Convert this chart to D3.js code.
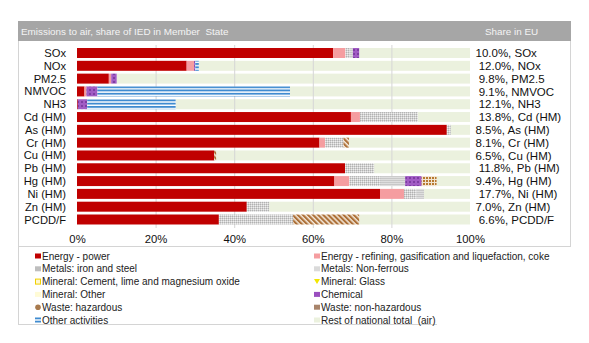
<!DOCTYPE html>
<html>
<head>
<meta charset="utf-8">
<script src="https://cdn.jsdelivr.net/npm/d3@7"></script>
<style>
  html, body { margin: 0; padding: 0; background: #fff; }
  svg { display: block; font-family: "Liberation Sans", Arial, sans-serif; }
  text { white-space: pre; }
</style>
</head>
<body>
<svg id="chart" width="589" height="343"></svg>
<script>
// Pollutants (rows) and the share-in-EU labels shown on the right
const categories = ["SOx", "NOx", "PM2.5", "NMVOC", "NH3", "Cd (HM)", "As (HM)", "Cr (HM)",
  "Cu (HM)", "Pb (HM)", "Hg (HM)", "Ni (HM)", "Zn (HM)", "PCDD/F"];
const euShareLabels = ["10.0%, SOx", " 12.0%, NOx", " 9.8%, PM2.5", " 9.1%, NMVOC", " 12.1%, NH3",
  " 13.8%, Cd (HM)", "8.5%, As (HM)", "8.1%, Cr (HM)", "6.5%, Cu (HM)", " 11.8%, Pb (HM)",
  "9.4%, Hg (HM)", " 17.7%, Ni (HM)", "7.0%, Zn (HM)", " 6.6%, PCDD/F"];

// Share of national air emissions (%) by IED activity
const energyPower      = [65.2, 27.9, 8.1, 1.9, 0.2, 69.7, 94.1, 61.7, 34.9, 68.2, 65.5, 77.1, 43.2, 36.1];
const energyRefining   = [3.1, 1.9, 0.6, 0.5, 0, 2.3, 0, 1.4, 0, 0, 3.8, 6.1, 0, 0];
const metalsIronSteel  = [1.0, 0, 0, 0, 0, 14.7, 1.0, 4.7, 0, 7.4, 8.0, 3.2, 5.7, 18.9];
const metalsNonFerrous = [0.9, 0, 0, 0, 0, 0, 0, 0, 0, 0, 6.2, 1.9, 0, 0];
const mineralCement    = [0, 0, 0, 0, 0, 0, 0, 0, 0, 0, 0, 0, 0, 0];
const mineralGlass     = [0, 0, 0, 0, 0, 0, 0, 0, 0, 0, 0, 0, 0, 0];
const mineralOther     = [0, 0, 0, 0, 0, 0, 0, 0, 0, 0, 0, 0, 0, 0];
const chemical         = [1.6, 0.3, 1.4, 2.8, 2.4, 0, 0, 0, 0, 0, 4.2, 0, 0, 0];
const wasteHazardous   = [0, 0, 0, 0, 0, 0, 0, 1.4, 0.5, 0, 0, 0, 0, 16.8];
const wasteNonHazard   = [0, 0, 0, 0, 0, 0, 0, 0, 0, 0, 3.8, 0, 0, 0];
const otherActivities  = [0, 0.9, 0, 49.0, 22.5, 0, 0, 0, 0, 0, 0, 0, 0, 0];
const restOfNational   = [28.2, 69.0, 89.9, 45.8, 74.9, 13.3, 4.9, 30.8, 64.6, 24.4, 8.5, 11.7, 51.1, 28.2];

const xTicks = [0, 20, 40, 60, 80, 100];
const xTickLabels = ["0%", "20%", "40%", "60%", "80%", "100%"];

const series = [
  { key: "power",    name: "Energy - power", values: energyPower, fill: "#C00000" },
  { key: "refining", name: "Energy - refining, gasification and liquefaction, coke", values: energyRefining, fill: "#F59DA0" },
  { key: "iron",     name: "Metals: iron and steel", values: metalsIronSteel, fill: "url(#pIron)" },
  { key: "nonfer",   name: "Metals: Non-ferrous", values: metalsNonFerrous, fill: "url(#pNonFer)" },
  { key: "cement",   name: "Mineral: Cement, lime and magnesium oxide", values: mineralCement, fill: "#FFF2A8" },
  { key: "glass",    name: "Mineral: Glass", values: mineralGlass, fill: "#F2E600" },
  { key: "minother", name: "Mineral: Other", values: mineralOther, fill: "#FFFDE0" },
  { key: "chem",     name: "Chemical", values: chemical, fill: "url(#pChem)" },
  { key: "wasteH",   name: "Waste: hazardous", values: wasteHazardous, fill: "url(#pWasteH)" },
  { key: "wasteNH",  name: "Waste: non-hazardous", values: wasteNonHazard, fill: "url(#pWasteNH)" },
  { key: "other",    name: "Other activities", values: otherActivities, fill: "url(#pOther)" },
  { key: "rest",     name: "Rest of national total  (air)", values: restOfNational, fill: "#EBF1DE" }
];

const rows = categories.map((c, i) => {
  const r = { cat: c };
  series.forEach(s => { r[s.key] = s.values[i]; });
  return r;
});

const svg = d3.select("#chart");
const defs = svg.append("defs");

// Fill patterns
const pIron = defs.append("pattern").attr("id", "pIron").attr("patternUnits", "userSpaceOnUse")
  .attr("width", 2).attr("height", 2);
pIron.append("rect").attr("width", 2).attr("height", 2).attr("fill", "#D2D2D2");
pIron.append("rect").attr("width", 1).attr("height", 1).attr("fill", "#B2B2B2");
pIron.append("rect").attr("x", 1).attr("y", 1).attr("width", 1).attr("height", 1).attr("fill", "#EEEEEE");

const pNonFer = defs.append("pattern").attr("id", "pNonFer").attr("patternUnits", "userSpaceOnUse")
  .attr("width", 2).attr("height", 2);
pNonFer.append("rect").attr("width", 2).attr("height", 2).attr("fill", "#DEDEDE");
pNonFer.append("rect").attr("width", 2).attr("height", 1).attr("fill", "#C8C8C8");

const pChem = defs.append("pattern").attr("id", "pChem").attr("patternUnits", "userSpaceOnUse")
  .attr("width", 4).attr("height", 4);
pChem.append("rect").attr("width", 4).attr("height", 4).attr("fill", "#A15BC4");
pChem.append("rect").attr("x", 1).attr("y", 1).attr("width", 2).attr("height", 2).attr("fill", "#7E3DA3");

const pWasteH = defs.append("pattern").attr("id", "pWasteH").attr("patternUnits", "userSpaceOnUse")
  .attr("width", 3.6).attr("height", 3.6).attr("patternTransform", "rotate(-45)");
pWasteH.append("rect").attr("width", 3.6).attr("height", 3.6).attr("fill", "#F3E8DA");
pWasteH.append("rect").attr("width", 2.1).attr("height", 3.6).attr("fill", "#AD7038");

const pWasteNH = defs.append("pattern").attr("id", "pWasteNH").attr("patternUnits", "userSpaceOnUse")
  .attr("width", 3).attr("height", 3);
pWasteNH.append("rect").attr("width", 3).attr("height", 3).attr("fill", "#F1E3D0");
pWasteNH.append("rect").attr("width", 2).attr("height", 2).attr("fill", "#B7792F");

const pOther = defs.append("pattern").attr("id", "pOther").attr("patternUnits", "userSpaceOnUse")
  .attr("width", 4).attr("height", 3.3).attr("y", 0.4);
pOther.append("rect").attr("width", 4).attr("height", 3.3).attr("fill", "#FFFFFF");
pOther.append("rect").attr("width", 4).attr("height", 1.9).attr("fill", "#3F8BD0");

// Frame and header
svg.append("rect").attr("x", 0).attr("y", 0).attr("width", 589).attr("height", 343).attr("fill", "#fff");
const frame = svg.append("g").attr("stroke", "#D4D4D4").attr("stroke-width", 1).attr("fill", "none");
frame.append("line").attr("x1", 18.5).attr("x2", 18.5).attr("y1", 21).attr("y2", 325);
frame.append("line").attr("x1", 570.5).attr("x2", 570.5).attr("y1", 21).attr("y2", 247);
frame.append("line").attr("x1", 18).attr("x2", 571).attr("y1", 246.5).attr("y2", 246.5);
frame.append("line").attr("x1", 18).attr("x2", 437).attr("y1", 324.5).attr("y2", 324.5);

svg.append("rect").attr("x", 18).attr("y", 21).attr("width", 553).attr("height", 20).attr("fill", "#A6A6A6");
svg.append("text").attr("x", 21).attr("y", 35).attr("font-size", 9.9).attr("fill", "#F4F4F4")
  .text("Emissions to air, share of IED in Member  State");
svg.append("text").attr("x", 485).attr("y", 35).attr("font-size", 9.9).attr("fill", "#F4F4F4")
  .text("Share in EU");

// Scales
const x = d3.scaleLinear().domain([0, 100]).range([77, 470]);
const y = d3.scaleBand().domain(categories).range([46.6, 225.9]).paddingInner(0.22).paddingOuter(0.11);

const stack = d3.stack().keys(series.map(s => s.key));
const stacked = stack(rows);
const fillOf = Object.fromEntries(series.map(s => [s.key, s.fill]));

const drawLayer = layer => {
  svg.append("g").attr("fill", fillOf[layer.key])
    .selectAll("rect").data(layer.filter(d => d[1] - d[0] > 0)).join("rect")
    .attr("x", d => x(d[0]))
    .attr("y", d => y(d.data.cat))
    .attr("width", d => x(d[1]) - x(d[0]))
    .attr("height", y.bandwidth());
};

// Remaining national total first, then gridlines, then IED activity segments
stacked.filter(l => l.key === "rest").forEach(drawLayer);

svg.append("g").selectAll("line").data(xTicks.filter(t => t > 0 && t < 100)).join("line")
  .attr("x1", d => x(d) + 0.5).attr("x2", d => x(d) + 0.5)
  .attr("y1", 45).attr("y2", 228)
  .attr("stroke", "#D6D6D6").attr("stroke-width", 1);

stacked.filter(l => l.key !== "rest").forEach(drawLayer);

// Category labels
svg.append("g").selectAll("text").data(categories).join("text")
  .attr("x", 66).attr("y", d => y(d) + y.bandwidth() / 2)
  .attr("dy", "0.36em").attr("text-anchor", "end")
  .attr("font-size", 11.2).attr("fill", "#111").text(d => d);

// Share in EU labels
svg.append("g").selectAll("text").data(euShareLabels).join("text")
  .attr("x", 475.5).attr("y", (d, i) => y(categories[i]) + y.bandwidth() / 2)
  .attr("dy", "0.36em").attr("font-size", 11.5).attr("fill", "#111").text(d => d);

// X axis labels
const xAxis = d3.axisBottom(x).tickValues(xTicks).tickFormat((d, i) => xTickLabels[i]).tickSize(0).tickPadding(0);
const ax = svg.append("g").attr("transform", "translate(0,235)").call(xAxis);
ax.select(".domain").remove();
ax.selectAll("text").attr("font-size", 11.3).attr("fill", "#111").attr("font-family", "Liberation Sans, Arial, sans-serif");

// Legend
const leftKeys = ["power", "iron", "cement", "minother", "wasteH", "other"];
const rightKeys = ["refining", "nonfer", "glass", "chem", "wasteNH", "rest"];
const byKey = Object.fromEntries(series.map(s => [s.key, s]));
const legendCols = [{ keys: leftKeys, sx: 35, tx: 42 }, { keys: rightKeys, sx: 314, tx: 321 }];
legendCols.forEach(col => {
  col.keys.forEach((k, i) => {
    const s = byKey[k];
    const cy = 256 + i * 12.8;
    const g = svg.append("g");
    if (k === "cement") {
      g.append("rect").attr("x", col.sx + 0.5).attr("y", cy - 2.5).attr("width", 5).attr("height", 5)
        .attr("fill", "#FFF8D0").attr("stroke", "#F0D000").attr("stroke-width", 1);
    } else if (k === "glass") {
      g.append("path").attr("d", `M${col.sx},${cy - 2.5}L${col.sx + 6},${cy - 2.5}L${col.sx + 3},${cy + 2.5}Z`)
        .attr("fill", s.fill);
    } else if (k === "wasteH") {
      g.append("circle").attr("cx", col.sx + 3).attr("cy", cy).attr("r", 2.8).attr("fill", "#A87A4E");
    } else if (k === "other") {
      g.append("rect").attr("x", col.sx).attr("y", cy - 2.5).attr("width", 6).attr("height", 1.8).attr("fill", "#3F8BD0");
      g.append("rect").attr("x", col.sx).attr("y", cy + 0.7).attr("width", 6).attr("height", 1.8).attr("fill", "#3F8BD0");
    } else if (k === "wasteNH") {
      g.append("rect").attr("x", col.sx).attr("y", cy - 2.5).attr("width", 6).attr("height", 5).attr("fill", "#A8846A");
    } else if (k === "minother") {
      g.append("rect").attr("x", col.sx).attr("y", cy - 2.5).attr("width", 6).attr("height", 5).attr("fill", "#FFFBD6");
    } else if (k === "iron") {
      g.append("rect").attr("x", col.sx).attr("y", cy - 2.5).attr("width", 6).attr("height", 5).attr("fill", "#BEBEBE");
    } else if (k === "nonfer") {
      g.append("rect").attr("x", col.sx).attr("y", cy - 2.5).attr("width", 6).attr("height", 5).attr("fill", "#DADADA");
    } else if (k === "chem") {
      g.append("rect").attr("x", col.sx).attr("y", cy - 2.5).attr("width", 6).attr("height", 5).attr("fill", "#9A4FBF");
    } else {
      g.append("rect").attr("x", col.sx).attr("y", cy - 2.5).attr("width", 6).attr("height", 5).attr("fill", s.fill);
    }
    g.append("text").attr("x", col.tx).attr("y", cy).attr("dy", "0.36em")
      .attr("font-size", 10).attr("fill", "#222").text(s.name);
  });
});
</script>
</body>
</html>
